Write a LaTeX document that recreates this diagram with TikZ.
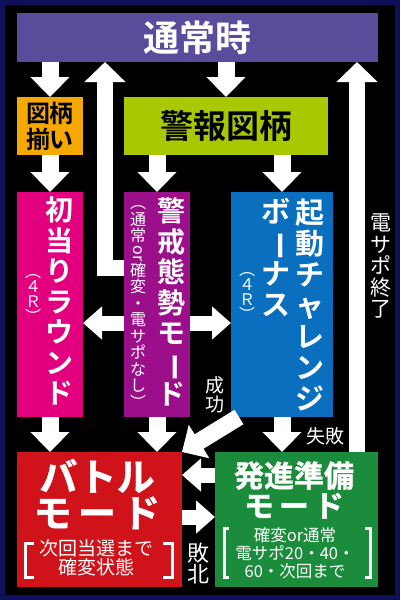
\documentclass[tikz,border=0pt]{standalone}
\usepackage{fontspec}
\setmainfont{Noto Sans CJK JP}[BoldFont={Noto Sans CJK JP Bold}]
\newfontfamily\heavyfont{Noto Sans CJK JP Bold}[FakeBold=1.2]
\usetikzlibrary{arrows.meta}

\definecolor{framecol}{HTML}{10105A}
\definecolor{normalcol}{HTML}{5B4B9B}
\definecolor{soroicol}{HTML}{F5A800}
\definecolor{keihocol}{HTML}{A9C800}
\definecolor{hatsucol}{HTML}{E2007F}
\definecolor{keikaicol}{HTML}{9C0F8A}
\definecolor{kidoucol}{HTML}{0A6FBF}
\definecolor{battlecol}{HTML}{D0121B}
\definecolor{hasshincol}{HTML}{1A8C3C}

\newcommand\chobar{\rotatebox[origin=c]{-90}{ー}}

\tikzset{
  panel/.style={inner sep=0pt, outer sep=0pt},
  bigtxt/.style={inner sep=0pt, align=center, text=white,
    font=\bfseries\fontsize{#1}{#1}\selectfont},
  coltxt/.style={inner sep=0pt, align=center, text=white,
    font=\bfseries\fontsize{28}{30.5}\selectfont},
  subtxt/.style={inner sep=0pt, align=center, text=white,
    font=\fontsize{#1}{#1}\selectfont},
  lbltxt/.style={inner sep=0pt, align=center, text=white,
    font=\fontsize{19}{19}\selectfont},
  blkarrow/.style={draw=white, line width=17pt,
    -{Triangle[length=20pt,width=38pt]}},
  smallarrow/.style={draw=white, line width=15pt,
    -{Triangle[length=19pt,width=32pt]}},
  uparrow/.style={draw=white, line width=16pt, line join=miter,
    -{Triangle[length=20pt,width=40pt]}},
  bracket/.style={draw=white, line width=3pt}
}

\begin{document}
\begin{tikzpicture}[x=1pt,y=-1pt]
  \useasboundingbox (0,0) rectangle (400,600);
  \fill[framecol] (0,0) rectangle (400,600);
  \fill[black] (5,5) rectangle (395,595);

  % boxes
  \node[panel, fill=normalcol, minimum width=361, minimum height=49] (tsujo) at (197.5,37.5) {};
  \node[panel, fill=soroicol, minimum width=66, minimum height=58] (soroi) at (50,126) {};
  \node[panel, fill=keihocol, minimum width=204, minimum height=58] (keiho) at (226,126) {};
  \node[panel, fill=hatsucol, minimum width=66, minimum height=225] (hatsu) at (50,304.5) {};
  \node[panel, fill=keikaicol, minimum width=66, minimum height=225] (keikai) at (157,304.5) {};
  \node[panel, fill=kidoucol, minimum width=102, minimum height=225] (kidou) at (282,304.5) {};
  \node[panel, fill=battlecol, minimum width=165, minimum height=135] (battle) at (99.5,519.5) {};
  \node[panel, fill=hasshincol, minimum width=163, minimum height=135] (hasshin) at (296.5,519.5) {};

  % texts in the boxes
  \node[bigtxt=36] (tsujoT) at (tsujo) {通常時};
  \node[bigtxt=24, text=black, font=\bfseries\fontsize{24}{26}\selectfont] (soroiT) at (soroi) {図柄\\揃い};
  \node[bigtxt=33, text=black] (keihoT) at (keiho) {警報図柄};

  \node[coltxt] (hatsuT) at (59,301) {初\\当\\り\\ラ\\ウ\\ン\\ド};
  \node[subtxt=16, font=\fontsize{16}{15}\selectfont] (hatsuR) at (33,299) {︵\\４\\Ｒ\\︶};

  \node[coltxt] (keikaiT) at (171,302) {警\\戒\\態\\勢\\モ\\\chobar\\ド};
  \node[subtxt=16, font=\fontsize{16}{16.5}\selectfont] (keikaiS) at (138,307)
    {︵\\通\\常\\\rotatebox[origin=c]{-90}{or}\\確\\変\\・\\電\\サ\\ポ\\な\\し\\︶};

  \node[coltxt, font=\bfseries\fontsize{29}{31}\selectfont] (kidouT) at (310,305) {起\\動\\チ\\ャ\\レ\\ン\\ジ};
  \node[coltxt, font=\bfseries\fontsize{29}{31}\selectfont] (kidouB) at (276,257) {ボ\\\chobar\\ナ\\ス};
  \node[subtxt=16, font=\fontsize{16}{15}\selectfont] (kidouR) at (247,297) {︵\\４\\Ｒ\\︶};

  \node[bigtxt=38, font=\heavyfont\fontsize{38}{36}\selectfont] (battleT) at (97,494) {バトル\\モ\,ー\,ド};
  \node[subtxt=19, font=\fontsize{19}{18.5}\selectfont] (battleN) at (96,558) {次回当選まで\\確変状態};
  \draw[bracket] (34,543) -- (25,543) -- (25,577) -- (34,577);
  \draw[bracket] (163,543) -- (172,543) -- (172,577) -- (163,577);

  \node[bigtxt=30, font=\heavyfont\fontsize{30}{30}\selectfont] (hasshinT) at (294,490) {発進準備\\モ\,ー\,ド};
  \node[subtxt=16.5, font=\fontsize{16.5}{18}\selectfont] (hasshinN) at (295,553) {確変or通常\\電サポ20・40・\\60・次回まで};
  \draw[bracket] (229,528) -- (224,528) -- (224,577) -- (229,577);
  \draw[bracket] (365,528) -- (370,528) -- (370,577) -- (365,577);

  % turning points
  \coordinate (backL) at (105,268);
  \coordinate (backR) at (357,0);
  \coordinate (midrow) at (0,323);
  \coordinate (rowA) at (0,475);
  \coordinate (rowB) at (0,517);

  % arrows
  \draw[blkarrow] (tsujo.south -| soroi.north) -- (soroi.north);
  \draw[blkarrow] (tsujo.south -| keiho.north) -- (keiho.north);
  \draw[blkarrow] (soroi.south) -- (hatsu.north);
  \draw[blkarrow] (keiho.south -| keikai.north) -- (keikai.north);
  \draw[blkarrow] (keiho.south -| kidou.north) -- (kidou.north);
  \draw[blkarrow] (hatsu.south) -- (hatsu.south |- battle.north);
  \draw[blkarrow] (keikai.south) -- (keikai.south |- battle.north);
  \draw[blkarrow] (kidou.south) -- (kidou.south |- hasshin.north);
  \draw[blkarrow] ([xshift=8pt]kidou.south west) -- (battle.north east);
  \draw[smallarrow] (keikai.west |- midrow) -- (hatsu.east |- midrow);
  \draw[smallarrow] (keikai.east |- midrow) -- (kidou.west |- midrow);
  \draw[smallarrow] (hasshin.west |- rowA) -- (battle.east |- rowA);
  \draw[smallarrow] (battle.east |- rowB) -- (hasshin.west |- rowB);
  \draw[uparrow] (keikai.west |- backL) -- (backL) -- (backL |- tsujo.south);
  \draw[uparrow] (hasshin.north -| backR) -- (backR |- tsujo.south);

  % labels
  \node[lbltxt, font=\fontsize{21}{21.5}\selectfont] (sapoend) at (381,266) {電\\サ\\ポ\\終\\了};
  \node[lbltxt] (seikou) at (215,395) {成\\功};
  \node[lbltxt] (shippai) at (325,436) {失敗};
  \node[lbltxt, font=\fontsize{22}{21}\selectfont] (haiboku) at (198,564) {敗\\北};
\end{tikzpicture}
\end{document}
